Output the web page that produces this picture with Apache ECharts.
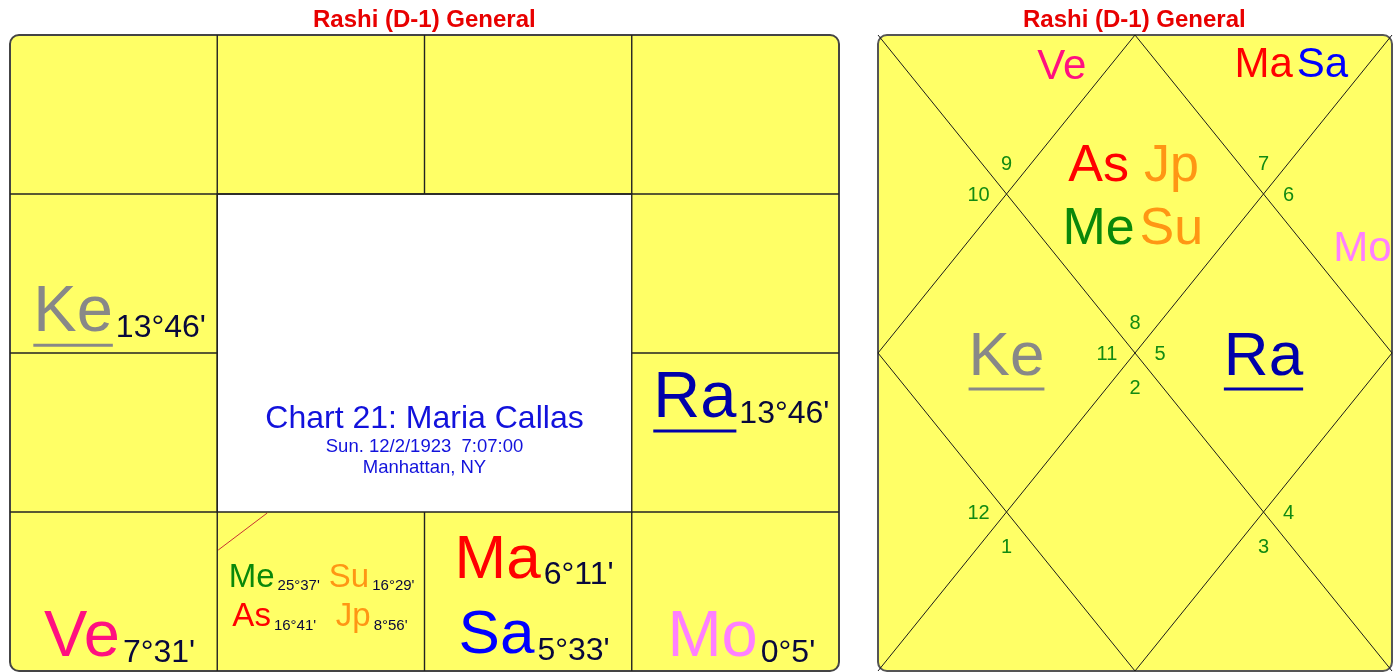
<!DOCTYPE html>
<html>
<head>
<meta charset="utf-8">
<script src="https://cdn.jsdelivr.net/npm/echarts@6/dist/echarts.min.js"></script>
<style>
  html, body { margin: 0; padding: 0; background: #fff; }
  #main { width: 1399px; height: 672px; }
</style>
</head>
<body>
<div id="main"></div>
<script>
const chartTitle = 'Rashi (D-1) General';
const infoLines = ['Chart 21: Maria Callas', 'Sun. 12/2/1923  7:07:00', 'Manhattan, NY'];

// planets, the sign each one sits in, and its degree inside the sign
const planets = ['Me', 'Su', 'As', 'Jp', 'Ma', 'Sa', 'Mo', 'Ve', 'Ra', 'Ke'];
const planetSigns = [8, 8, 8, 8, 7, 7, 6, 9, 5, 11];
const planetDegrees = ["25°37'", "16°29'", "16°41'", "8°56'", "6°11'", "5°33'", "0°5'", "7°31'", "13°46'", "13°46'"];
const planetRetro = [false, false, false, false, false, false, false, false, true, true];

const houses = [1, 2, 3, 4, 5, 6, 7, 8, 9, 10, 11, 12];

// ---- styles / layout ----
const FONT = "'Liberation Sans', Arial, sans-serif";
const planetColor = {
  As: '#ff0000', Su: '#ff9614', Mo: '#ff80ff', Ma: '#ff0000', Me: '#0a880a',
  Jp: '#ff9614', Ve: '#ff1080', Sa: '#0000ff', Ra: '#0000aa', Ke: '#888888'
};
const degColor = '#08083c';
const numColor = '#128a12';
const yellow = '#ffff66';

// south indian style: fixed sign cells [col, row]
const southCells = {12: [0, 0], 1: [1, 0], 2: [2, 0], 3: [3, 0], 4: [3, 1], 5: [3, 2],
  6: [3, 3], 7: [2, 3], 8: [1, 3], 9: [0, 3], 10: [0, 2], 11: [0, 1]};
const singleRow = {5: 0.40, 11: 0.86};

// north indian style: text anchor of each house, inner vertex for the sign number
const northAnchor = {1: [2, 1], 2: [1.43, 0.18], 3: [0.35, 1], 4: [1, 2], 5: [0.35, 3], 6: [1, 3.8],
  7: [2, 3], 8: [3, 3.8], 9: [3.65, 3], 10: [3, 2], 11: [3.77, 1.33], 12: [3.23, 0.17]};
const northVertex = {1: [2, 2, 'up'], 2: [1, 1, 'up'], 3: [1, 1, 'left'], 4: [2, 2, 'left'],
  5: [1, 3, 'left'], 6: [1, 3, 'down'], 7: [2, 2, 'down'], 8: [3, 3, 'down'],
  9: [3, 3, 'right'], 10: [2, 2, 'right'], 11: [3, 1, 'right'], 12: [3, 1, 'up']};
const dirOffset = {up: [0, -31], down: [0, 34], left: [-28, 0], right: [25, 0]};
const diamondHouses = [1, 4, 7, 10];

const ascSign = planetSigns[planets.indexOf('As')];

const measureCtx = document.createElement('canvas').getContext('2d');
function textWidth(t, fs, weight) {
  measureCtx.font = (weight ? weight + ' ' : '') + fs + 'px ' + FONT;
  return measureCtx.measureText(t).width;
}
// zrender draws with textBaseline middle -> convert from alphabetic baseline
function textAt(text, x, base, fs, color, align) {
  return {
    type: 'text',
    style: {
      text: text, x: x, y: base - 0.276 * fs, font: fs + 'px ' + FONT,
      fill: color, align: align || 'left', verticalAlign: 'middle'
    }
  };
}
function planetElems(i, cx, base, fs, dfs, withDeg) {
  const name = planets[i];
  const nw = textWidth(name, fs);
  const dw = withDeg ? textWidth(planetDegrees[i], dfs) : 0;
  const gap = withDeg ? 3 : 0;
  const left = cx - (nw + gap + dw) / 2;
  const els = [textAt(name, left, base, fs, planetColor[name])];
  if (planetRetro[i]) {
    const uy = base + 0.2 * fs;
    els.push({type: 'rect', shape: {x: left, y: uy, width: nw, height: 3},
      style: {fill: planetColor[name]}});
  }
  if (withDeg) els.push(textAt(planetDegrees[i], left + nw + gap, base + 0.1 * fs, dfs, degColor));
  return els;
}

// ---- left chart (south indian) ----
function renderSouthBoard(params, api) {
  const p0 = api.coord([0, 0]), p1 = api.coord([4, 4]);
  const children = [{
    type: 'rect',
    shape: {x: p0[0], y: p0[1], width: p1[0] - p0[0], height: p1[1] - p0[1], r: 9},
    style: {fill: yellow, stroke: '#444', lineWidth: 2}
  }];
  const c0 = api.coord([1, 1]), c1 = api.coord([3, 3]);
  children.push({type: 'rect', shape: {x: c0[0], y: c0[1], width: c1[0] - c0[0], height: c1[1] - c0[1]},
    style: {fill: '#fff', stroke: '#222', lineWidth: 1.4}});
  Object.keys(southCells).forEach(s => {
    const [col, row] = southCells[s];
    if (col + 1 < 4) {
      const a = api.coord([col + 1, row]), b = api.coord([col + 1, row + 1]);
      children.push({type: 'line', shape: {x1: a[0], y1: a[1], x2: b[0], y2: b[1]},
        style: {stroke: '#222', lineWidth: 1.4}});
    }
    if (row + 1 < 4) {
      const a = api.coord([col, row + 1]), b = api.coord([col + 1, row + 1]);
      children.push({type: 'line', shape: {x1: a[0], y1: a[1], x2: b[0], y2: b[1]},
        style: {stroke: '#222', lineWidth: 1.4}});
    }
  });
  const cx = (c0[0] + c1[0]) / 2, h = c1[1] - c0[1];
  children.push(textAt(infoLines[0], cx, c0[1] + 0.735 * h, 32, '#1212dc', 'center'));
  children.push(textAt(infoLines[1], cx, c0[1] + 0.81 * h, 18.5, '#1212dc', 'center'));
  children.push(textAt(infoLines[2], cx, c0[1] + 0.877 * h, 18.5, '#1212dc', 'center'));
  return {type: 'group', children: children};
}

function renderSouthCell(params, api) {
  const sign = api.value(2);
  const [col, row] = southCells[sign];
  const p0 = api.coord([col, row]), p1 = api.coord([col + 1, row + 1]);
  const x0 = p0[0], y0 = p0[1], w = p1[0] - p0[0], h = p1[1] - p0[1];
  const idx = planets.map((p, i) => i).filter(i => planetSigns[i] === sign);
  const children = [];
  if (sign === ascSign) {
    children.push({type: 'line', shape: {x1: x0 + 1, y1: y0 + 38, x2: x0 + 50, y2: y0 + 1},
      style: {stroke: '#c83232', lineWidth: 1}});
  }
  if (idx.length === 1 || idx.length === 2) {
    const fs = idx.length === 1 ? 65 : 62;
    const rows = idx.length === 1 ? [singleRow[sign] || 0.905] : [0.415, 0.89];
    idx.forEach((i, k) => {
      children.push(...planetElems(i, x0 + w / 2 + 6, y0 + rows[k] * h, fs, 32, true));
    });
  } else if (idx.length > 2) {
    idx.forEach((i, k) => {
      const cx = x0 + (k % 2 ? 0.745 : 0.275) * w;
      const base = y0 + (k < 2 ? 0.47 : 0.72) * h;
      children.push(...planetElems(i, cx, base, 33, 15, true));
    });
  }
  return {type: 'group', children: children};
}

// ---- right chart (north indian) ----
function renderNorthBoard(params, api) {
  const c = (x, y) => api.coord([x, y]);
  const p0 = c(0, 0), p1 = c(4, 4);
  const ln = {stroke: '#1a1a1a', lineWidth: 1};
  return {type: 'group', children: [
    {type: 'rect', shape: {x: p0[0], y: p0[1], width: p1[0] - p0[0], height: p1[1] - p0[1], r: 9},
      style: {fill: yellow, stroke: '#555', lineWidth: 2}},
    {type: 'polyline', shape: {points: [c(0, 0), c(4, 4)]}, style: ln},
    {type: 'polyline', shape: {points: [c(4, 0), c(0, 4)]}, style: ln},
    {type: 'polygon', shape: {points: [c(2, 0), c(4, 2), c(2, 4), c(0, 2)]}, style: Object.assign({fill: 'none'}, ln)}
  ]};
}

function renderNorthHouse(params, api) {
  const house = api.value(2);
  const sign = ((ascSign - 1 + house - 1) % 12) + 1;
  const children = [];
  const v = northVertex[house];
  const vp = api.coord([v[0], v[1]]);
  const off = dirOffset[v[2]];
  children.push(textAt(String(sign), vp[0] + off[0], vp[1] + off[1] + 0.358 * 20, 20, numColor, 'center'));

  const idx = planets.map((p, i) => i).filter(i => planetSigns[i] === sign);
  if (idx.length) {
    const a = api.coord(northAnchor[house]);
    const diamond = diamondHouses.indexOf(house) >= 0;
    const fs = diamond ? (idx.length === 1 ? 62 : 52) : 42;
    const nRows = Math.ceil(idx.length / 2);
    idx.forEach((i, k) => {
      const r = nRows - 1 - Math.floor(k / 2);
      const inRow = Math.min(2, idx.length - Math.floor(k / 2) * 2);
      const col = k % 2;
      const cx = a[0] + (col - (inRow - 1) / 2) * 1.4 * fs;
      const cy = a[1] + (r - (nRows - 1) / 2) * 1.2 * fs;
      children.push(...planetElems(i, cx, cy + 0.358 * fs, fs, 0, false));
    });
  }
  return {type: 'group', children: children};
}

const chart = echarts.init(document.getElementById('main'));
const tw = textWidth(chartTitle, 24, 'bold');
const axisX = i => ({gridIndex: i, type: 'value', min: 0, max: 4, show: false});
const axisY = i => ({gridIndex: i, type: 'value', min: 0, max: 4, show: false, inverse: true});

chart.setOption({
  animation: false,
  title: [424, 1134].map(cx => ({
    text: chartTitle, left: Math.round(cx - tw / 2), top: 8, padding: 0,
    textStyle: {color: '#e80000', fontSize: 24, fontWeight: 'bold', fontFamily: FONT}
  })),
  grid: [
    {left: 10, top: 35, width: 829, height: 636, show: false},
    {left: 878, top: 35, width: 514, height: 636, show: false}
  ],
  xAxis: [axisX(0), axisX(1)],
  yAxis: [axisY(0), axisY(1)],
  series: [
    {type: 'custom', xAxisIndex: 0, yAxisIndex: 0, clip: false, silent: true,
      data: [[2, 2, 0]], renderItem: renderSouthBoard},
    {type: 'custom', xAxisIndex: 0, yAxisIndex: 0, clip: false, silent: true,
      data: Object.keys(southCells).map(s => [southCells[s][0] + 0.5, southCells[s][1] + 0.5, +s]),
      renderItem: renderSouthCell},
    {type: 'custom', xAxisIndex: 1, yAxisIndex: 1, clip: false, silent: true,
      data: [[2, 2, 0]], renderItem: renderNorthBoard},
    {type: 'custom', xAxisIndex: 1, yAxisIndex: 1, clip: true, silent: true,
      data: houses.map(h => [northAnchor[h][0], northAnchor[h][1], h]),
      renderItem: renderNorthHouse}
  ]
});
</script>
</body>
</html>
